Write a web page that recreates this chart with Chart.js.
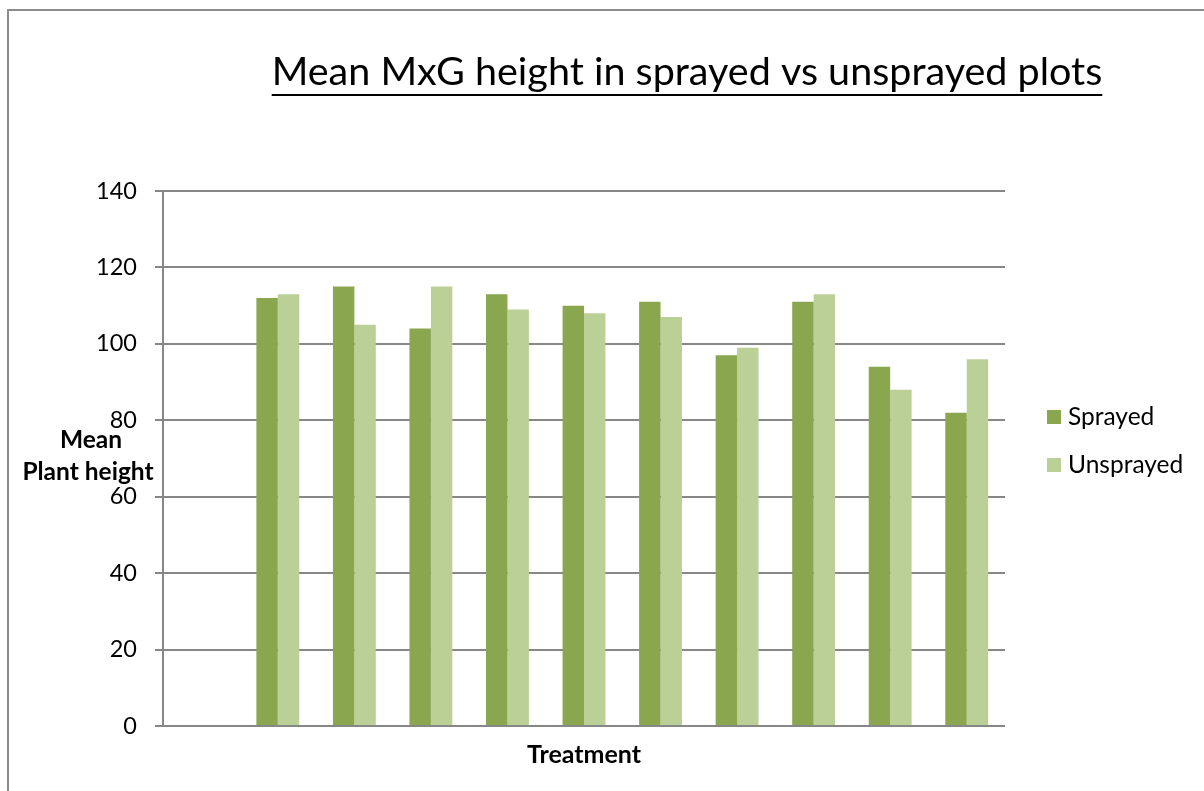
<!DOCTYPE html>
<html>
<head>
<meta charset="utf-8">
<script src="https://cdn.jsdelivr.net/npm/chart.js@4/dist/chart.umd.min.js"></script>
<style>
  html, body { margin: 0; padding: 0; background: #fff; }
  #wrap { position: relative; width: 1204px; height: 791px; }
</style>
</head>
<body>
<div id="wrap"><canvas id="c" width="1204" height="791"></canvas></div>
<script>
const categories = ["", "", "", "", "", "", "", "", "", "", ""];
const sprayed   = [null, 112, 115, 104, 113, 110, 111, 97, 111, 94, 82];
const unsprayed = [null, 113, 105, 115, 109, 108, 107, 99, 113, 88, 96];
const seriesNames = ["Sprayed", "Unsprayed"];
const chartTitle = "Mean MxG height in sprayed vs unsprayed plots";
const yTitleLines = ["Mean", "Plant height"];
const xTitle = "Treatment";
const yTicks = [0, 20, 40, 60, 80, 100, 120, 140];

const FONT = "Lato, 'Open Sans', sans-serif";
const GRID = "#878787";

const decor = {
  id: "decor",
  beforeDraw(chart) {
    const ctx = chart.ctx;
    ctx.save();
    ctx.strokeStyle = "#8c8c8c";
    ctx.lineWidth = 2;
    ctx.beginPath();
    ctx.moveTo(8, 791);
    ctx.lineTo(8, 10);
    ctx.lineTo(1204, 10);
    ctx.stroke();
    ctx.restore();
  },
  afterDraw(chart) {
    const ctx = chart.ctx;
    ctx.save();
    // Title with underline
    ctx.font = "39.5px " + FONT;
    ctx.fillStyle = "#000";
    ctx.textAlign = "center";
    ctx.textBaseline = "alphabetic";
    const tx = 687, ty = 85;
    ctx.fillText(chartTitle, tx, ty);
    const w = ctx.measureText(chartTitle).width;
    ctx.fillRect(tx - w / 2, ty + 9, w, 2);
    // y title (horizontal, two lines)
    ctx.font = "bold 24.5px " + FONT;
    ctx.textBaseline = "middle";
    ctx.fillText(yTitleLines[0], 91, 440);
    ctx.fillText(yTitleLines[1], 88, 472);
    // legend
    const ds = chart.data.datasets;
    ctx.textAlign = "left";
    ctx.font = "24.5px " + FONT;
    const ly = [417, 465];
    ds.forEach((d, i) => {
      ctx.fillStyle = d.backgroundColor;
      ctx.fillRect(1047, ly[i] - 7, 14, 14);
      ctx.fillStyle = "#000";
      ctx.fillText(d.label, 1068, ly[i]);
    });
    ctx.restore();
  }
};

new Chart(document.getElementById("c"), {
  type: "bar",
  data: {
    labels: categories,
    datasets: [
      { label: seriesNames[0], data: sprayed, backgroundColor: "#8aa64f",
        borderColor: "#8aa64f", borderWidth: 0 },
      { label: seriesNames[1], data: unsprayed, backgroundColor: "#bbd097",
        borderColor: "#d2e0b8", borderWidth: 0 }
    ]
  },
  options: {
    responsive: false,
    animation: false,
    devicePixelRatio: 1,
    layout: { padding: { top: 191, right: 199, bottom: 0, left: 0 } },
    plugins: {
      legend: { display: false },
      title: { display: false },
      tooltip: { enabled: false }
    },
    datasets: { bar: { categoryPercentage: 0.56, barPercentage: 1.0 } },
    scales: {
      x: {
        grid: { display: false },
        border: { display: false },
        ticks: { display: false },
        title: { display: true, text: xTitle, color: "#000",
                 font: { family: FONT, size: 25, weight: "bold" },
                 padding: { top: 0, bottom: 21 } },
        afterFit(scale) { scale.height = 65; }
      },
      y: {
        min: 0, max: 140,
        afterBuildTicks(scale) { scale.ticks = yTicks.map(v => ({ value: v })); },
        ticks: { color: "#000", font: { family: FONT, size: 23.5 }, padding: 18 },
        grid: { color: GRID, lineWidth: 2, tickLength: 8, drawTicks: true },
        border: { display: true, color: GRID, width: 2 },
        afterFit(scale) { scale.width = 163; }
      }
    }
  },
  plugins: [decor]
});
</script>
</body>
</html>
